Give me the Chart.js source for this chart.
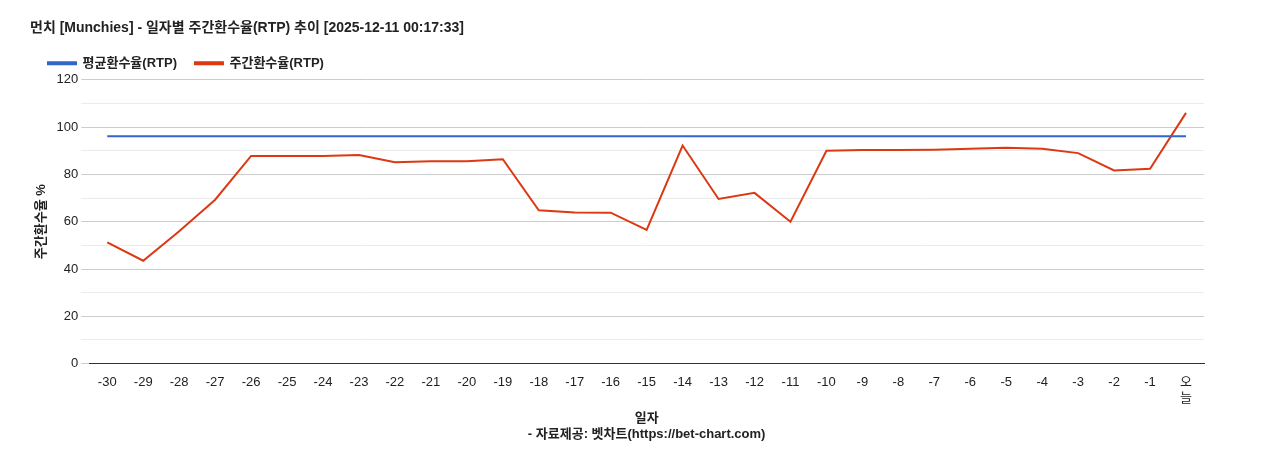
<!DOCTYPE html>
<html>
<head>
<meta charset="utf-8">
<script src="https://cdn.jsdelivr.net/npm/chart.js@4"></script>
<style>
  html, body { margin: 0; padding: 0; background: #fff; }
  #wrap { width: 1268px; height: 450px; }
</style>
</head>
<body>
<div id="wrap"><canvas id="rtpChart"></canvas></div>
<script>
const days = ['-30','-29','-28','-27','-26','-25','-24','-23','-22','-21','-20','-19','-18','-17','-16','-15',
  '-14','-13','-12','-11','-10','-9','-8','-7','-6','-5','-4','-3','-2','-1',['오','늘']];
const weeklyRtp = [51.3, 43.5, 56, 69.3, 87.8, 87.8, 87.8, 88.2, 85.1, 85.6, 85.6, 86.4, 64.8, 63.9, 63.8, 56.5,
  92.2, 69.6, 72.2, 60, 90, 90.3, 90.3, 90.4, 90.8, 91.3, 90.8, 89.0, 81.7, 82.4, 106];
const avgRtp = days.map(() => 96.1);

Chart.defaults.font.family = '"Liberation Sans", Arial, "Noto Sans CJK KR", sans-serif';
Chart.defaults.color = '#222';

new Chart(document.getElementById('rtpChart'), {
    type: 'line',
    data: {
        labels: days,
        datasets: [
            { label: '평균환수율(RTP)', data: avgRtp, borderColor: '#3366cc', backgroundColor: '#3366cc', borderWidth: 2, pointRadius: 0 },
            { label: '주간환수율(RTP)', data: weeklyRtp, borderColor: '#dc3912', backgroundColor: '#dc3912', borderWidth: 2, pointRadius: 0 }
        ]
    },
    options: {
        responsive: true,
        maintainAspectRatio: false,
        animation: false,
        layout: { padding: { left: 30, right: 64, top: 20, bottom: 4 } },
        plugins: {
            title: { display: true, text: '먼치 [Munchies] - 일자별 주간환수율(RTP) 추이 [2025-12-11 00:17:33]', align: 'start',
                font: { size: 14, weight: 'bold' }, padding: { top: 0, bottom: 2 } },
            legend: { position: 'top', align: 'start',
                labels: { boxWidth: 28, boxHeight: 2, font: { size: 13, weight: 'bold' }, padding: 18 } },
            tooltip: { enabled: false }
        },
        scales: {
            x: {
                offset: true,
                grid: { display: false },
                border: { color: '#333' },
                ticks: { font: { size: 13 }, maxRotation: 0, minRotation: 0, autoSkip: false },
                title: { display: true, text: ['일자', '- 자료제공: 벳차트(https://bet-chart.com)'], font: { size: 13, weight: 'bold' }, padding: { top: 2 } }
            },
            y: {
                min: 0, max: 120,
                border: { display: false },
                grid: { color: ctx => (ctx.tick.value % 20 === 0 ? '#cccccc' : '#ebebeb') },
                ticks: { stepSize: 10, font: { size: 13 }, callback: v => (v % 20 === 0 ? v : '') },
                title: { display: true, text: '주간환수율 %', font: { size: 13, weight: 'bold' } }
            }
        }
    }
});
</script>
</body>
</html>
